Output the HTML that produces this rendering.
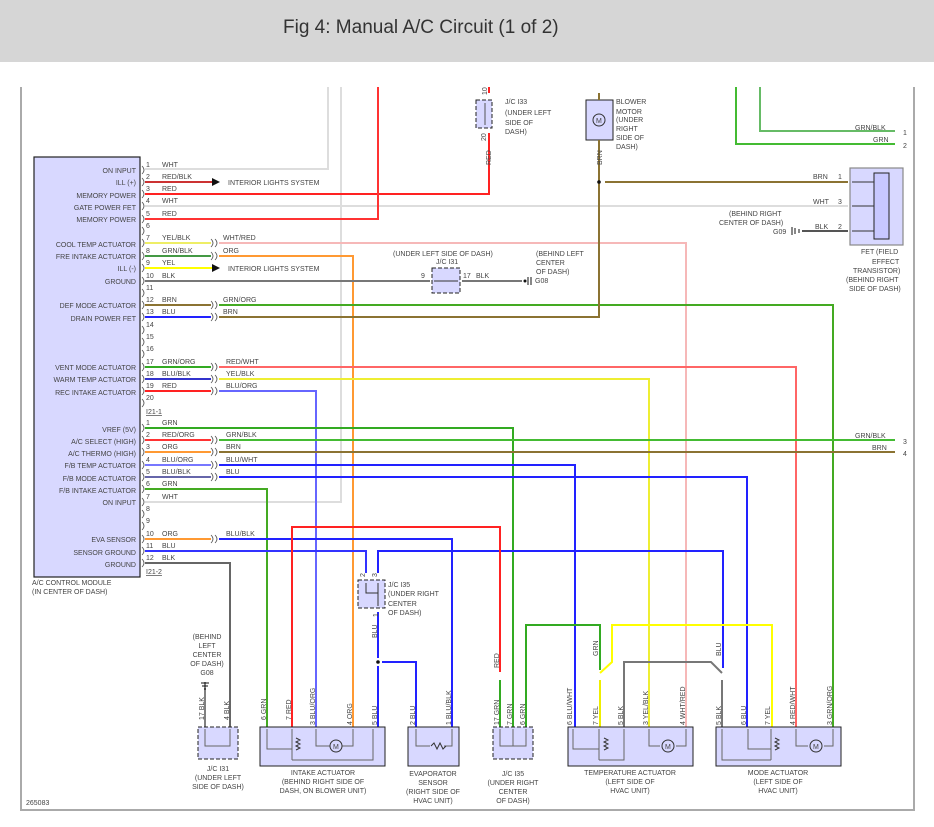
<!DOCTYPE html>
<html><head><meta charset="utf-8"><style>
html,body{margin:0;padding:0;background:#fff;}
svg{display:block;}
text{font-family:"Liberation Sans",sans-serif;fill:#444;}
.s{font-size:7px;}
.m{font-size:7px;fill:#444;}
</style></head><body>
<svg width="934" height="827" viewBox="0 0 934 827" xmlns="http://www.w3.org/2000/svg">
<rect x="0" y="0" width="934" height="62" fill="#d6d6d6"/>
<text x="283" y="33" style="font-size:19px;fill:#333">Fig 4: Manual A/C Circuit (1 of 2)</text>
<!-- frame -->
<path d="M21,87 V810 H914 V87" fill="none" stroke="#aaa" stroke-width="2"/>
<text x="26" y="805" class="s">265083</text>

<!-- module box -->
<rect x="34" y="157" width="106" height="420" fill="#d8d8ff" stroke="#222" stroke-width="1.2"/>
<g class="m" text-anchor="end">
<text x="136" y="173">ON INPUT</text><text x="136" y="185">ILL (+)</text><text x="136" y="198">MEMORY POWER</text>
<text x="136" y="210">GATE POWER FET</text><text x="136" y="222">MEMORY POWER</text>
<text x="136" y="247">COOL TEMP ACTUATOR</text><text x="136" y="259">FRE INTAKE ACTUATOR</text>
<text x="136" y="271">ILL (-)</text><text x="136" y="284">GROUND</text>
<text x="136" y="308">DEF MODE ACTUATOR</text><text x="136" y="321">DRAIN POWER FET</text>
<text x="136" y="370">VENT MODE ACTUATOR</text><text x="136" y="382">WARM TEMP ACTUATOR</text>
<text x="136" y="395">REC INTAKE ACTUATOR</text>
<text x="136" y="432">VREF (5V)</text><text x="136" y="444">A/C SELECT (HIGH)</text>
<text x="136" y="456">A/C THERMO (HIGH)</text><text x="136" y="468">F/B TEMP ACTUATOR</text>
<text x="136" y="481">F/B MODE ACTUATOR</text><text x="136" y="493">F/B INTAKE ACTUATOR</text>
<text x="136" y="505">ON INPUT</text>
<text x="136" y="542">EVA SENSOR</text><text x="136" y="555">SENSOR GROUND</text><text x="136" y="567">GROUND</text>
</g>
<text x="32" y="585" class="s">A/C CONTROL MODULE</text>
<text x="32" y="594" class="s">(IN CENTER OF DASH)</text>

<!-- pin numbers -->
<g class="s">
<text x="146" y="167">1</text><text x="146" y="179">2</text><text x="146" y="191">3</text><text x="146" y="203">4</text><text x="146" y="216">5</text><text x="146" y="228">6</text><text x="146" y="240">7</text><text x="146" y="253">8</text><text x="146" y="265">9</text><text x="146" y="278">10</text><text x="146" y="290">11</text><text x="146" y="302">12</text><text x="146" y="314">13</text><text x="146" y="327">14</text><text x="146" y="339">15</text><text x="146" y="351">16</text><text x="146" y="364">17</text><text x="146" y="376">18</text><text x="146" y="388">19</text><text x="146" y="400">20</text>
<text x="146" y="414" text-decoration="underline">I21-1</text>
<text x="146" y="425">1</text><text x="146" y="437">2</text><text x="146" y="449">3</text><text x="146" y="462">4</text><text x="146" y="474">5</text><text x="146" y="486">6</text><text x="146" y="499">7</text><text x="146" y="511">8</text><text x="146" y="523">9</text><text x="146" y="536">10</text><text x="146" y="548">11</text><text x="146" y="560">12</text>
<text x="146" y="574" text-decoration="underline">I21-2</text>
<!-- wire color labels left -->
<text x="162" y="167">WHT</text><text x="162" y="179">RED/BLK</text><text x="162" y="191">RED</text><text x="162" y="203">WHT</text><text x="162" y="216">RED</text>
<text x="162" y="240">YEL/BLK</text><text x="162" y="253">GRN/BLK</text><text x="162" y="265">YEL</text><text x="162" y="278">BLK</text>
<text x="162" y="302">BRN</text><text x="162" y="314">BLU</text>
<text x="162" y="364">GRN/ORG</text><text x="162" y="376">BLU/BLK</text><text x="162" y="388">RED</text>
<text x="162" y="425">GRN</text><text x="162" y="437">RED/ORG</text><text x="162" y="449">ORG</text><text x="162" y="462">BLU/ORG</text><text x="162" y="474">BLU/BLK</text><text x="162" y="486">GRN</text><text x="162" y="499">WHT</text>
<text x="162" y="536">ORG</text><text x="162" y="548">BLU</text><text x="162" y="560">BLK</text>
<!-- right of inline -->
<text x="223" y="240">WHT/RED</text><text x="223" y="253">ORG</text><text x="223" y="302">GRN/ORG</text><text x="223" y="314">BRN</text>
<text x="226" y="364">RED/WHT</text><text x="226" y="376">YEL/BLK</text><text x="226" y="388">BLU/ORG</text>
<text x="226" y="437">GRN/BLK</text><text x="226" y="449">BRN</text><text x="226" y="462">BLU/WHT</text><text x="226" y="474">BLU</text>
<text x="226" y="536">BLU/BLK</text>
<text x="228" y="185">INTERIOR LIGHTS SYSTEM</text><text x="228" y="271">INTERIOR LIGHTS SYSTEM</text>
</g>
<!-- module pin arcs -->
<g fill="none" stroke="#555" stroke-width="0.8">
<path d="M142,166q4,4 0,8M142,178q4,4 0,8M142,190q4,4 0,8M142,202q4,4 0,8M142,215q4,4 0,8M142,227q4,4 0,8M142,239q4,4 0,8M142,252q4,4 0,8M142,264q4,4 0,8M142,277q4,4 0,8M142,289q4,4 0,8M142,301q4,4 0,8M142,313q4,4 0,8M142,326q4,4 0,8M142,338q4,4 0,8M142,350q4,4 0,8M142,363q4,4 0,8M142,375q4,4 0,8M142,387q4,4 0,8M142,399q4,4 0,8"/>
<path d="M142,424q4,4 0,8M142,436q4,4 0,8M142,448q4,4 0,8M142,461q4,4 0,8M142,473q4,4 0,8M142,485q4,4 0,8M142,498q4,4 0,8M142,510q4,4 0,8M142,522q4,4 0,8M142,535q4,4 0,8M142,547q4,4 0,8M142,559q4,4 0,8"/>
<path d="M211,239q4,4 0,8M215,239q4,4 0,8M211,252q4,4 0,8M215,252q4,4 0,8M211,301q4,4 0,8M215,301q4,4 0,8M211,313q4,4 0,8M215,313q4,4 0,8M211,363q4,4 0,8M215,363q4,4 0,8M211,375q4,4 0,8M215,375q4,4 0,8M211,387q4,4 0,8M215,387q4,4 0,8M211,436q4,4 0,8M215,436q4,4 0,8M211,448q4,4 0,8M215,448q4,4 0,8M211,461q4,4 0,8M215,461q4,4 0,8M211,473q4,4 0,8M215,473q4,4 0,8M211,535q4,4 0,8M215,535q4,4 0,8"/>
</g>

<!-- wires -->
<g fill="none" stroke-width="2">
<!-- white lines -->
<path d="M145,169H328V87" stroke="#ddd"/>
<path d="M145,206H848" stroke="#ddd"/>
<path d="M145,502H341V87" stroke="#ddd"/>
<!-- red -->
<path d="M145,182H212" stroke="#c33"/>
<path d="M145,194H489V133" stroke="#f22"/>
<path d="M489,93V87" stroke="#f22"/>
<path d="M145,219H378V87" stroke="#f33"/>
<!-- 7 -->
<path d="M145,243H211" stroke="#ee6"/>
<path d="M219,243H686V727" stroke="#f6b8b8"/>
<!-- 8 -->
<path d="M145,256H211" stroke="#494"/>
<path d="M219,256H353V727" stroke="#f93"/>
<!-- 9 -->
<path d="M145,268H212" stroke="#ff0"/>
<!-- 10 -->
<path d="M145,281H430" stroke="#777"/>
<path d="M462,281H522" stroke="#777"/>
<!-- 12,13 -->
<path d="M145,305H211" stroke="#8b7332"/>
<path d="M219,305H833V727" stroke="#4a2"/>
<path d="M145,317H211" stroke="#22f"/>
<path d="M219,317H599V148" stroke="#8b7332"/>
<path d="M605,182H848" stroke="#8b7332"/>
<!-- 17-19 -->
<path d="M145,367H211" stroke="#3a2"/>
<path d="M219,367H796V727" stroke="#f66"/>
<path d="M145,379H211" stroke="#33c"/>
<path d="M219,379H649V727" stroke="#ee3"/>
<path d="M145,391H211" stroke="#f22"/>
<path d="M219,391H316V727" stroke="#66f"/>
<!-- second conn -->
<path d="M145,428H513V727" stroke="#3a2"/>
<path d="M145,440H211" stroke="#f33"/>
<path d="M219,440H895" stroke="#4b3"/>
<path d="M145,452H211" stroke="#f93"/>
<path d="M219,452H895" stroke="#8b7332"/>
<path d="M145,465H211" stroke="#77f"/>
<path d="M219,465H575V727" stroke="#22f"/>
<path d="M145,477H211" stroke="#66a"/>
<path d="M219,477H747V727" stroke="#22f"/>
<path d="M145,489H267V727" stroke="#4a2"/>
<path d="M145,539H211" stroke="#f93"/>
<path d="M219,539H452V727" stroke="#22f"/>
<path d="M145,551H366V573" stroke="#33f"/>
<path d="M378,573V551H723V668" stroke="#22f"/>
<path d="M145,563H230V727" stroke="#666"/>
<!-- red loop intake pin7 to I35 pin17 -->
<path d="M292,727V527H500V672" stroke="#f22"/>
<path d="M500,680V727" stroke="#3a2"/>
<!-- I35 down -->
<path d="M378,612V658M378,666V727" stroke="#22f"/>
<path d="M382,662H416V727" stroke="#22f"/>
<!-- green to temp -->
<path d="M526,727V625H600V670" stroke="#3a2"/>
<path d="M600,680V727" stroke="#ee0"/>
<path d="M600,673L612,662V625H772V727" stroke="#ff0"/>
<!-- BLK from temp pin5 to mode pin5 -->
<path d="M624,727V662H711L722,673" stroke="#777"/>
<path d="M722,680V727" stroke="#777"/>
<!-- top right greens -->
<path d="M736,87V144H895" stroke="#4b3"/>
<path d="M760,87V131H895" stroke="#6b6"/>
<!-- G09 -->
<path d="M802,231H848" stroke="#555"/>
<!-- G08 bottom -->
<path d="M205,727V682" stroke="#555" stroke-width="1.5"/>
</g>
<!-- arrows -->
<path d="M212,178L220,182L212,186Z" fill="#111"/>
<path d="M212,264L220,268L212,272Z" fill="#111"/>
<circle cx="599" cy="182" r="1.8" fill="#111"/>
<circle cx="378" cy="662" r="1.8" fill="#111"/>

<!-- J/C I33 -->
<rect x="476" y="100" width="16" height="28" fill="#d8d8ff" stroke="#222" stroke-dasharray="4,2"/>
<path d="M485,103V125" stroke="#555" fill="none"/>
<g class="s"><text x="482" y="96" transform="rotate(-90 484 93)">10</text><text x="481" y="140" transform="rotate(-90 484 138)">20</text>
<text x="488" y="168" transform="rotate(-90 488 165)">RED</text>
<text x="505" y="104">J/C I33</text><text x="505" y="115">(UNDER LEFT</text><text x="505" y="125">SIDE OF</text><text x="505" y="134">DASH)</text></g>

<!-- Blower motor -->
<rect x="586" y="100" width="27" height="40" fill="#d8d8ff" stroke="#222"/>
<circle cx="599" cy="120" r="6" fill="#d8d8ff" stroke="#333"/>
<text x="596" y="123" class="s">M</text>
<path d="M599,93V100M599,140V148" stroke="#8b7332" stroke-width="2"/>
<g class="s"><text x="616" y="104">BLOWER</text><text x="616" y="114">MOTOR</text><text x="616" y="122">(UNDER</text><text x="616" y="131">RIGHT</text><text x="616" y="140">SIDE OF</text><text x="616" y="149">DASH)</text>
<text x="599" y="168" transform="rotate(-90 599 165)">BRN</text></g>

<!-- FET -->
<rect x="850" y="168" width="53" height="77" fill="#d8d8ff" stroke="#888" stroke-width="1.2"/>
<rect x="874" y="173" width="15" height="66" fill="#c8c8ff" stroke="#222"/>
<path d="M852,182H874M852,206H874M852,231H874" stroke="#333"/>
<g class="s"><text x="813" y="179">BRN</text><text x="838" y="179">1</text>
<text x="813" y="204">WHT</text><text x="838" y="204">3</text>
<text x="815" y="229">BLK</text><text x="838" y="229">2</text>
<text x="729" y="216">(BEHIND RIGHT</text><text x="719" y="225">CENTER OF DASH)</text><text x="773" y="234">G09</text>
<text x="861" y="254">FET (FIELD</text><text x="872" y="264">EFFECT</text><text x="853" y="273">TRANSISTOR)</text><text x="846" y="282">(BEHIND RIGHT</text><text x="849" y="291">SIDE OF DASH)</text>
<text x="855" y="130">GRN/BLK</text><text x="903" y="135">1</text><text x="873" y="142">GRN</text><text x="903" y="148">2</text>
<text x="855" y="438">GRN/BLK</text><text x="903" y="444">3</text><text x="872" y="450">BRN</text><text x="903" y="456">4</text></g>
<path d="M792,227V235M795,228V234M799,229V233" stroke="#111"/>

<!-- J/C I31 middle -->
<rect x="432" y="268" width="28" height="25" fill="#d8d8ff" stroke="#222" stroke-dasharray="4,2"/>
<path d="M434,281H458" stroke="#333"/>
<g class="s"><text x="393" y="256">(UNDER LEFT SIDE OF DASH)</text><text x="436" y="264">J/C I31</text>
<text x="421" y="278">9</text><text x="463" y="278">17</text><text x="476" y="278">BLK</text>
<text x="536" y="256">(BEHIND LEFT</text><text x="536" y="265">CENTER</text><text x="536" y="274">OF DASH)</text><text x="535" y="283">G08</text></g>
<path d="M528,277V285M531,277V285" stroke="#111"/><circle cx="525" cy="281" r="1.5" fill="#111"/>

<!-- J/C I35 upper -->
<rect x="358" y="580" width="27" height="28" fill="#d8d8ff" stroke="#222" stroke-dasharray="4,2"/>
<path d="M366,583V593H378M378,583V606" stroke="#333" fill="none"/>
<g class="s"><text x="360" y="578" transform="rotate(-90 362 575)">2</text><text x="372" y="578" transform="rotate(-90 374 575)">3</text>
<text x="373" y="618" transform="rotate(-90 375 615)">1</text>
<text x="388" y="587">J/C I35</text><text x="388" y="596">(UNDER RIGHT</text><text x="388" y="606">CENTER</text><text x="388" y="615">OF DASH)</text>
<text x="374" y="641" transform="rotate(-90 374 638)">BLU</text></g>

<!-- bottom connectors -->
<g fill="#d8d8ff" stroke="#222">
<rect x="198" y="727" width="40" height="32" stroke-dasharray="4,2"/>
<rect x="260" y="727" width="125" height="39"/>
<rect x="408" y="727" width="51" height="39"/>
<rect x="493" y="727" width="40" height="32" stroke-dasharray="4,2"/>
<rect x="568" y="727" width="125" height="39"/>
<rect x="716" y="727" width="125" height="39"/>
</g>
<g fill="none" stroke="#666" stroke-width="1">
<path d="M205,729V746H230V729"/>
<path d="M267,729V749H292M292,729V760M316,729V746H332M340,746H353V729M373,729V760H292"/>
<path d="M416,729V746H430M444,746H452V729"/>
<path d="M500,729V746H526V729M513,729V746"/>
<path d="M573,729V749H599M599,729V760M624,729V760H599M649,729V746H660M676,746H686V729"/>
<path d="M722,729V760H771M748,729V749H771M771,729V760M796,729V746H808M824,746H833V729"/>
</g>
<g fill="#d8d8ff" stroke="#333">
<circle cx="336" cy="746" r="6"/><circle cx="668" cy="746" r="6"/><circle cx="816" cy="746" r="6"/>
</g>
<g class="s"><text x="333" y="749">M</text><text x="665" y="749">M</text><text x="813" y="749">M</text></g>
<path d="M431,746l3,-3l3,6l3,-6l3,6l3,-3" fill="none" stroke="#333"/>
<path d="M296,738l4,2l-4,2l4,2l-4,2l4,2l-4,2M604,738l4,2l-4,2l4,2l-4,2l4,2l-4,2M775,738l4,2l-4,2l4,2l-4,2l4,2l-4,2" fill="none" stroke="#333"/>

<!-- G08 bottom label -->
<g class="s" text-anchor="middle">
<text x="207" y="639">(BEHIND</text><text x="207" y="648">LEFT</text><text x="207" y="657">CENTER</text><text x="207" y="666">OF DASH)</text><text x="207" y="675">G08</text>
<text x="218" y="771">J/C I31</text><text x="218" y="780">(UNDER LEFT</text><text x="218" y="789">SIDE OF DASH)</text>
<text x="323" y="775">INTAKE ACTUATOR</text><text x="323" y="784">(BEHIND RIGHT SIDE OF</text><text x="323" y="793">DASH, ON BLOWER UNIT)</text>
<text x="433" y="776">EVAPORATOR</text><text x="433" y="785">SENSOR</text><text x="433" y="794">(RIGHT SIDE OF</text><text x="433" y="803">HVAC UNIT)</text>
<text x="513" y="776">J/C I35</text><text x="513" y="785">(UNDER RIGHT</text><text x="513" y="794">CENTER</text><text x="513" y="803">OF DASH)</text>
<text x="630" y="775">TEMPERATURE ACTUATOR</text><text x="630" y="784">(LEFT SIDE OF</text><text x="630" y="793">HVAC UNIT)</text>
<text x="778" y="775">MODE ACTUATOR</text><text x="778" y="784">(LEFT SIDE OF</text><text x="778" y="793">HVAC UNIT)</text>
</g>
<path d="M201,683H209M202,686H208M204,689H206" stroke="#111"/>
<!-- vertical wire labels -->
<g class="s">
<text transform="translate(204,720) rotate(-90)">17 BLK</text>
<text transform="translate(229,720) rotate(-90)">4  BLK</text>
<text transform="translate(266,720) rotate(-90)">6  GRN</text>
<text transform="translate(291,720) rotate(-90)">7  RED</text>
<text transform="translate(315,725) rotate(-90)">3  BLU/ORG</text>
<text transform="translate(352,725) rotate(-90)">4  ORG</text>
<text transform="translate(377,725) rotate(-90)">5  BLU</text>
<text transform="translate(415,725) rotate(-90)">2  BLU</text>
<text transform="translate(451,725) rotate(-90)">1  BLU/BLK</text>
<text transform="translate(499,668) rotate(-90)">RED</text>
<text transform="translate(499,725) rotate(-90)">17 GRN</text>
<text transform="translate(512,725) rotate(-90)">7  GRN</text>
<text transform="translate(525,725) rotate(-90)">6  GRN</text>
<text transform="translate(572,725) rotate(-90)">6  BLU/WHT</text>
<text transform="translate(598,725) rotate(-90)">7  YEL</text>
<text transform="translate(598,656) rotate(-90)">GRN</text>
<text transform="translate(623,725) rotate(-90)">5  BLK</text>
<text transform="translate(648,725) rotate(-90)">3  YEL/BLK</text>
<text transform="translate(685,725) rotate(-90)">4  WHT/RED</text>
<text transform="translate(721,725) rotate(-90)">5  BLK</text>
<text transform="translate(721,656) rotate(-90)">BLU</text>
<text transform="translate(746,725) rotate(-90)">6  BLU</text>
<text transform="translate(770,725) rotate(-90)">7  YEL</text>
<text transform="translate(795,725) rotate(-90)">4  RED/WHT</text>
<text transform="translate(832,725) rotate(-90)">3  GRN/ORG</text>
</g>
</svg>
</body></html>
